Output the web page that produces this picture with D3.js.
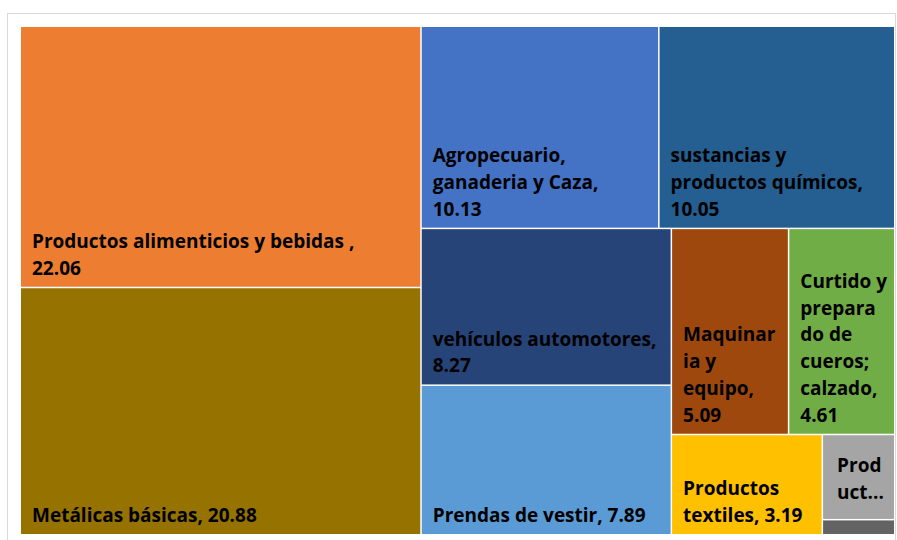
<!DOCTYPE html>
<html>
<head>
<meta charset="utf-8">
<script src="https://cdn.jsdelivr.net/npm/d3@7"></script>
<style>
  body { margin: 0; background: #fff; }
  text { font-family: "Open Sans", Lato, sans-serif; font-weight: bold; }
</style>
</head>
<body>
<svg id="chart" width="897" height="540"></svg>
<script>
// Sectors and their share
const categories = [
  'Productos alimenticios y bebidas',
  'Metálicas básicas',
  'Agropecuario, ganaderia y Caza',
  'sustancias y productos químicos',
  'vehículos automotores',
  'Prendas de vestir',
  'Maquinaria y equipo',
  'Curtido y preparado de cueros; calzado',
  'Productos textiles',
  'Productos otros',
  'Otros'
];
const values = [22.06, 20.88, 10.13, 10.05, 8.27, 7.89, 5.09, 4.61, 3.19, 1.30, 0.23];
const colors = ['#ED7D31', '#967300', '#4472C4', '#255E91', '#264478', '#5B9BD5',
                '#9E480E', '#70AD47', '#FFC000', '#A5A5A5', '#636363'];
// Label lines as Excel wrapped them
const labelLines = [
  ['Productos alimenticios y bebidas ,', '22.06'],
  ['Metálicas básicas, 20.88'],
  ['Agropecuario,', 'ganaderia y Caza,', '10.13'],
  ['sustancias y', 'productos químicos,', '10.05'],
  ['vehículos automotores,', '8.27'],
  ['Prendas de vestir, 7.89'],
  ['Maquinar', 'ia y', 'equipo,', '5.09'],
  ['Curtido y', 'prepara', 'do de', 'cueros;', 'calzado,', '4.61'],
  ['Productos', 'textiles, 3.19'],
  ['Prod', 'uct...'],
  []
];

const svg = d3.select('#chart');
const margin = { left: 21, top: 27 };
const width = 873, height = 507;
const lineH = 26.8;

// light frame around the plot area
svg.append('rect')
  .attr('x', 7.5).attr('y', 13.5)
  .attr('width', 888).attr('height', 560)
  .attr('fill', 'none')
  .attr('stroke', '#d9d9d9')
  .attr('stroke-width', 1);

const data = categories.map((c, i) => ({ name: c, value: values[i], color: colors[i], lines: labelLines[i] }));

const root = d3.hierarchy({ children: data })
  .sum(d => d.value || 0);

d3.treemap()
  .tile(d3.treemapSquarify.ratio(1))
  .size([width, height])
  .paddingInner(1.5)(root);

const g = svg.append('g').attr('transform', `translate(${margin.left},${margin.top})`);

const cell = g.selectAll('g.cell')
  .data(root.leaves())
  .enter()
  .append('g')
  .attr('class', 'cell');

cell.append('rect')
  .attr('x', d => d.x0)
  .attr('y', d => d.y0)
  .attr('width', d => d.x1 - d.x0)
  .attr('height', d => d.y1 - d.y0)
  .attr('fill', d => d.data.color);

// labels sit bottom-left in each box
cell.each(function(d) {
  const lines = d.data.lines;
  if (!lines.length) return;
  const small = d.data.name === 'Productos otros';
  const x = d.x0 + (small ? 14 : 11);
  const lastBase = d.y1 - (small ? 20 : 12);
  const t = d3.select(this).append('text')
    .attr('fill', '#000')
    .style('font-size', '19px');
  lines.forEach((l, i) => {
    t.append('tspan')
      .attr('x', x)
      .attr('y', lastBase - (lines.length - 1 - i) * lineH)
      .text(l);
  });
});
</script>
</body>
</html>
